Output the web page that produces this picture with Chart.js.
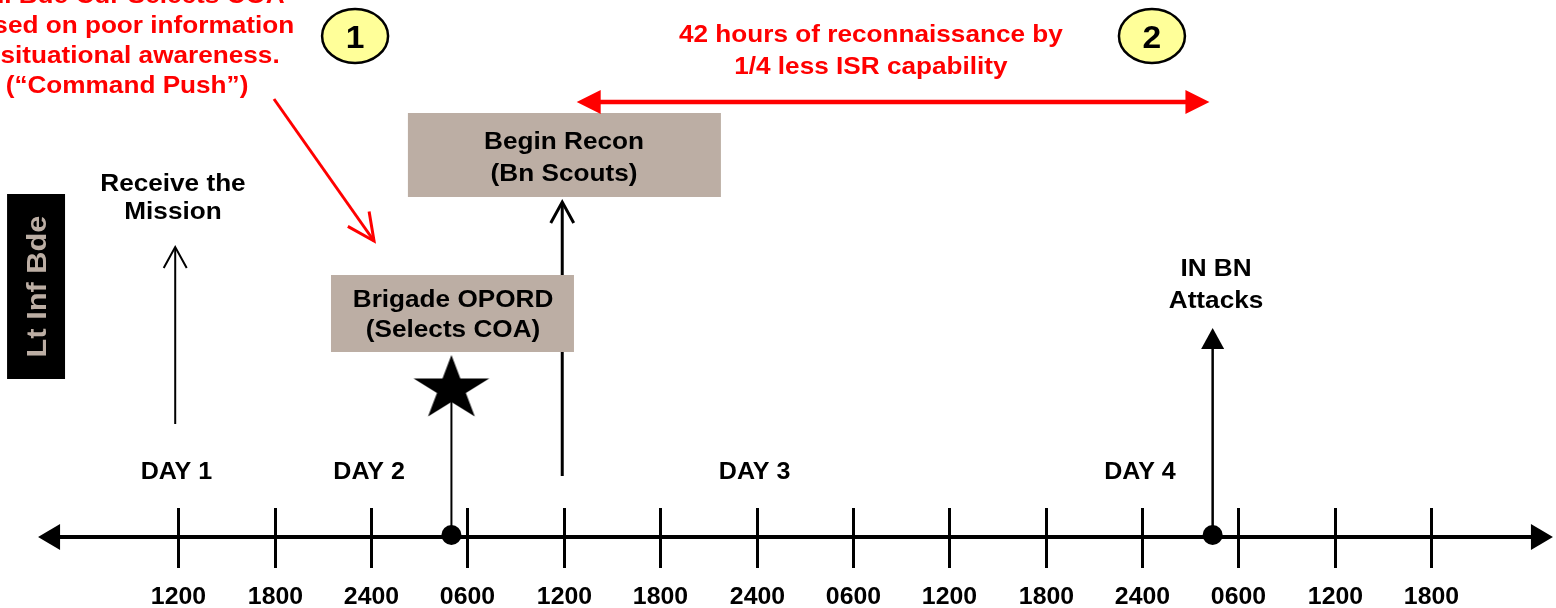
<!DOCTYPE html>
<html>
<head>
<meta charset="utf-8">
<script src="https://cdn.jsdelivr.net/npm/chart.js@4.4.1/dist/chart.umd.min.js"></script>
<style>
  html, body { margin: 0; padding: 0; background: #fff; }
  canvas { display: block; }
</style>
</head>
<body>
<canvas id="timeline" width="1556" height="608"></canvas>
<script>
// time axis, in hours from the start of Day 1
var tickHours = [12, 18, 24, 30, 36, 42, 48, 54, 60, 66, 72, 78, 84, 90];
var tickLabels = ['1200', '1800', '2400', '0600', '1200', '1800', '2400', '0600', '1200', '1800', '2400', '0600', '1200', '1800'];
var dayLabels = ['DAY 1', 'DAY 2', 'DAY 3', 'DAY 4'];
var dayHours = [12, 24, 48, 72];

// events on the timeline
var eventLabels = [['Receive the', 'Mission'], ['Brigade OPORD', '(Selects COA)'], ['Begin Recon', '(Bn Scouts)'], ['IN BN', 'Attacks']];
var eventHours = [11.8, 29, 35.9, 76.4];

// recon window (red double arrow)
var reconSpan = [36.8, 76.2];
var reconNote = ['42 hours of reconnaissance by', '1/4 less ISR capability'];
var cmdNote = ['Bn. Bde Cdr Selects COA', 'Based on poor information', '& situational awareness.', '(\u201cCommand Push\u201d)'];
var markerLabels = ['1', '2'];
var unitLabel = 'Lt Inf Bde';

// ---- layout (x in hours, y in rows of the y scale) ----
var FONT = '"Liberation Sans", Arial, Helvetica, sans-serif';
var STRETCH = 1.09;
var RED = '#ff0000';
var TAUPE = 'rgb(188,174,164)';
var axisY = 537;
var evLayout = [
  { stemFrom: 424, stemTo: 247, head: 'open', w: 2, textX: 11.66, base: [191, 219] },
  { stemFrom: 535, stemTo: 389, head: 'star', w: 2, textX: 29.1, base: [307, 337], box: [21.5, 36.63, 275, 352] },
  { stemFrom: 476, stemTo: 202, head: 'open', w: 3, textX: 36.01, base: [149, 181], box: [26.29, 45.78, 113, 197] },
  { stemFrom: 532, stemTo: 330, head: 'solid', w: 2.5, textX: 76.61, base: [276, 308] }
];
var dotEvents = [1, 3];

function makeStar(R, sx) {
  var c = document.createElement('canvas');
  var w = Math.ceil(2 * R * 0.951 * sx) + 4, h = Math.ceil(2 * R) + 4;
  c.width = w; c.height = h;
  var g = c.getContext('2d');
  g.translate(w / 2, h / 2);
  g.scale(sx, 1);
  g.beginPath();
  for (var i = 0; i < 10; i++) {
    var r = i % 2 ? R * 0.382 : R;
    var a = -Math.PI / 2 + i * Math.PI / 5;
    g.lineTo(r * Math.cos(a), r * Math.sin(a));
  }
  g.closePath();
  g.fillStyle = '#000';
  g.fill();
  return c;
}

function txt(ctx, s, x, y, size, color, stretch) {
  ctx.save();
  ctx.translate(x, y);
  ctx.scale(stretch || STRETCH, 1);
  ctx.font = 'bold ' + size + 'px ' + FONT;
  ctx.fillStyle = color || '#000';
  ctx.textAlign = 'center';
  ctx.textBaseline = 'alphabetic';
  ctx.fillText(s, 0, 0);
  ctx.restore();
}

function solidHead(ctx, tx, ty, dx, dy, len, half, color) {
  // tip at (tx,ty), pointing along (dx,dy)
  var bx = tx - dx * len, by = ty - dy * len;
  ctx.beginPath();
  ctx.moveTo(tx, ty);
  ctx.lineTo(bx - dy * half, by + dx * half);
  ctx.lineTo(bx + dy * half, by - dx * half);
  ctx.closePath();
  ctx.fillStyle = color;
  ctx.fill();
}

function openHead(ctx, tx, ty, dx, dy, len, half, color, w) {
  var bx = tx - dx * len, by = ty - dy * len;
  ctx.beginPath();
  ctx.moveTo(bx - dy * half, by + dx * half);
  ctx.lineTo(tx, ty);
  ctx.lineTo(bx + dy * half, by - dx * half);
  ctx.strokeStyle = color;
  ctx.lineWidth = w;
  ctx.lineJoin = 'miter';
  ctx.stroke();
}

var timelinePlugin = {
  id: 'timeline',
  beforeDatasetsDraw: function(chart) {
    var ctx = chart.ctx, xs = chart.scales.x, ys = chart.scales.y;
    var ay = ys.getPixelForValue(axisY);
    ctx.save();
    // tick marks and labels
    ctx.strokeStyle = '#000';
    ctx.lineWidth = 3;
    tickHours.forEach(function(h, i) {
      var px = Math.round(xs.getPixelForValue(h)) + 0.5;
      ctx.beginPath();
      ctx.moveTo(px, ys.getPixelForValue(508));
      ctx.lineTo(px, ys.getPixelForValue(568));
      ctx.stroke();
      txt(ctx, tickLabels[i], px, ys.getPixelForValue(604), 23, '#000', 1.08);
    });
    // axis arrowheads
    solidHead(ctx, xs.getPixelForValue(3.26), ay, -1, 0, 22, 13, '#000');
    solidHead(ctx, xs.getPixelForValue(97.59), ay, 1, 0, 22, 13, '#000');
    // day labels
    dayLabels.forEach(function(d, i) {
      txt(ctx, d, xs.getPixelForValue(dayHours[i]) - 2, ys.getPixelForValue(479), 23);
    });
    ctx.restore();
  },
  afterDatasetsDraw: function(chart) {
    var ctx = chart.ctx, xs = chart.scales.x, ys = chart.scales.y;
    ctx.save();
    // event boxes, heads and labels
    evLayout.forEach(function(e, i) {
      var px = xs.getPixelForValue(eventHours[i]);
      if (e.box) {
        var x0 = xs.getPixelForValue(e.box[0]), x1 = xs.getPixelForValue(e.box[1]);
        var y0 = ys.getPixelForValue(e.box[2]), y1 = ys.getPixelForValue(e.box[3]);
        ctx.fillStyle = TAUPE;
        ctx.fillRect(x0, y0, x1 - x0, y1 - y0);
      }
      var tipY = ys.getPixelForValue(e.stemTo);
      if (e.head === 'open') openHead(ctx, px, tipY, 0, -1, 21, 11.5, '#000', e.w);
      if (e.head === 'solid') solidHead(ctx, px, tipY - 2, 0, -1, 21, 11.5, '#000');
      var tx = xs.getPixelForValue(e.textX);
      eventLabels[i].forEach(function(line, k) {
        txt(ctx, line, tx, ys.getPixelForValue(e.base[k]), 24);
      });
    });

    // red recon arrow heads and note
    var ry = ys.getPixelForValue(102);
    solidHead(ctx, xs.getPixelForValue(reconSpan[0]), ry, -1, 0, 24, 12, RED);
    solidHead(ctx, xs.getPixelForValue(reconSpan[1]), ry, 1, 0, 24, 12, RED);
    var nx = xs.getPixelForValue(55.12);
    txt(ctx, reconNote[0], nx, ys.getPixelForValue(42), 24, RED);
    txt(ctx, reconNote[1], nx, ys.getPixelForValue(74), 24, RED);

    // red command note with diagonal arrow
    var cx = xs.getPixelForValue(8.8);
    cmdNote.forEach(function(line, k) {
      txt(ctx, line, cx, ys.getPixelForValue(3 + k * 30), 24, RED);
    });
    var sx = xs.getPixelForValue(17.95), sy = ys.getPixelForValue(99);
    var ex = xs.getPixelForValue(24.18), ey = ys.getPixelForValue(241);
    ctx.beginPath();
    ctx.moveTo(sx, sy);
    ctx.lineTo(ex, ey);
    ctx.strokeStyle = RED;
    ctx.lineWidth = 3;
    ctx.stroke();
    var len = Math.hypot(ex - sx, ey - sy);
    openHead(ctx, ex, ey, (ex - sx) / len, (ey - sy) / len, 27, 13, RED, 3);

    // numbered markers
    [23.0, 72.62].forEach(function(h, i) {
      var mx = xs.getPixelForValue(h), my = ys.getPixelForValue(36);
      ctx.beginPath();
      ctx.ellipse(mx, my, 33, 27, 0, 0, Math.PI * 2);
      ctx.fillStyle = 'rgb(255,255,153)';
      ctx.fill();
      ctx.strokeStyle = '#000';
      ctx.lineWidth = 2.5;
      ctx.stroke();
      txt(ctx, markerLabels[i], mx, my + 12, 32, '#000', 1.05);
    });

    // unit label box
    var bx0 = xs.getPixelForValue(1.33), bx1 = xs.getPixelForValue(4.94);
    var by0 = ys.getPixelForValue(194), by1 = ys.getPixelForValue(379);
    ctx.fillStyle = '#000';
    ctx.fillRect(bx0, by0, bx1 - bx0, by1 - by0);
    ctx.save();
    ctx.translate((bx0 + bx1) / 2, (by0 + by1) / 2);
    ctx.rotate(-Math.PI / 2);
    ctx.scale(1.1, 1);
    ctx.font = 'bold 28px ' + FONT;
    ctx.fillStyle = TAUPE;
    ctx.textAlign = 'center';
    ctx.textBaseline = 'alphabetic';
    ctx.fillText(unitLabel, 0, 10);
    ctx.restore();

    ctx.restore();
  }
};

var datasets = [];
// timeline axis
datasets.push({
  type: 'line', label: 'axis', order: 10,
  data: [{ x: 4.5, y: axisY }, { x: 96.3, y: axisY }],
  borderColor: '#000', borderWidth: 4, pointRadius: 0
});
// recon window
datasets.push({
  type: 'line', label: 'recon', order: 9,
  data: [{ x: reconSpan[0] + 0.5, y: 102 }, { x: reconSpan[1] - 0.5, y: 102 }],
  borderColor: RED, borderWidth: 4.5, pointRadius: 0
});
// stems for each event
evLayout.forEach(function(e, i) {
  datasets.push({
    type: 'line', label: eventLabels[i].join(' '), order: 5,
    data: [{ x: eventHours[i], y: e.stemFrom }, { x: eventHours[i], y: e.stemTo + (e.head === 'star' ? 0 : 1) }],
    borderColor: '#000', borderWidth: e.w, pointRadius: 0
  });
});
// dots on the axis
datasets.push({
  type: 'scatter', label: 'events', order: 1,
  data: dotEvents.map(function(i) { return { x: eventHours[i], y: 535 }; }),
  backgroundColor: '#000', borderWidth: 0, pointRadius: 10
});
// star for the OPORD
datasets.push({
  type: 'scatter', label: 'star', order: 0,
  data: [{ x: eventHours[1], y: 389 }],
  pointStyle: makeStar(34, 1.17), pointRadius: 30
});

var chart = new Chart(document.getElementById('timeline').getContext('2d'), {
  type: 'scatter',
  data: { datasets: datasets },
  options: {
    responsive: false,
    animation: false,
    events: [],
    layout: { padding: 0, autoPadding: false },
    plugins: { legend: { display: false }, tooltip: { enabled: false } },
    scales: {
      x: { type: 'linear', min: 0.89, max: 97.78, display: false },
      y: { type: 'linear', min: 0, max: 608, reverse: true, display: false }
    }
  },
  plugins: [timelinePlugin]
});
</script>
</body>
</html>
